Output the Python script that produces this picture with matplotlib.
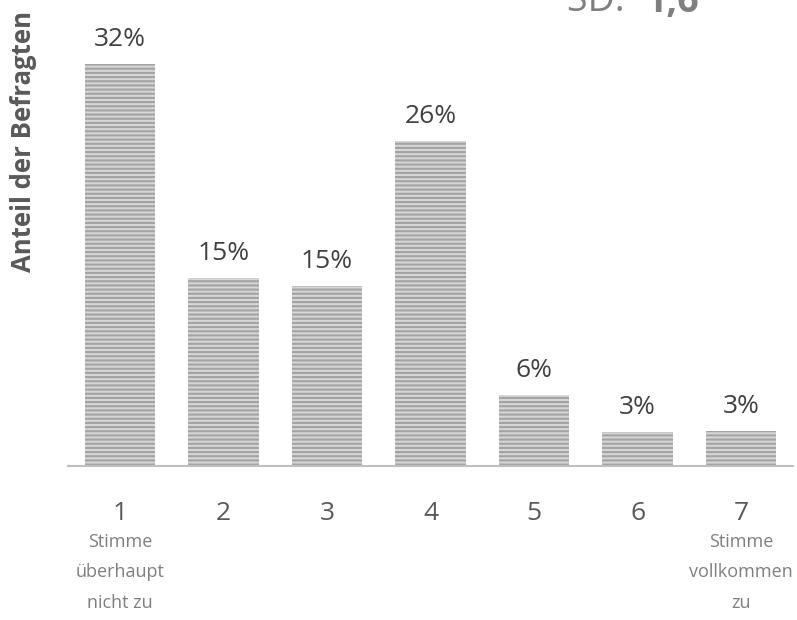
import numpy as np
import matplotlib.pyplot as plt

plt.rcParams['font.family'] = ['Open Sans', 'DejaVu Sans']
plt.rcParams['hatch.linewidth'] = 1.5

categories = ['1', '2', '3', '4', '5', '6', '7']
shares = [31.9, 14.9, 14.3, 25.8, 5.6, 2.7, 2.8]
value_labels = ['32%', '15%', '15%', '26%', '6%', '3%', '3%']
sub_labels = ['Stimme\nüberhaupt\nnicht zu', '', '', '', '', '', 'Stimme\nvollkommen\nzu']

fig = plt.figure(figsize=(7.97, 6.2), dpi=100)
ax = fig.add_axes([68 / 797, 154 / 620, 725 / 797, 466 / 620])

x = np.arange(len(categories))
bars = ax.bar(x, shares, width=0.68, color='#d6d6d6', edgecolor='#a3a3a3',
              hatch='----', linewidth=0)

for b, lab in zip(bars, value_labels):
    ax.annotate(lab, (b.get_x() + b.get_width() / 2, b.get_height()),
                xytext=(0, 13), textcoords='offset points', ha='center', va='baseline',
                fontsize=19, color='#404040')

ax.set_xlim(-0.5, len(categories) - 0.5)
ax.set_ylim(0, 466 / 12.6)
ax.set_yticks([])
ax.set_xticks(x)
ax.set_xticklabels(categories, fontsize=19, color='#595959')
ax.tick_params(axis='x', length=0, pad=25)
for s in ['top', 'right', 'left']:
    ax.spines[s].set_visible(False)
ax.spines['bottom'].set_color('#bfbfbf')
ax.spines['bottom'].set_linewidth(1.5)

for xi, sub in zip(x, sub_labels):
    if sub:
        ax.annotate(sub, (xi, 0), xytext=(0, -48), textcoords='offset points',
                    ha='center', va='top', fontsize=13, color='#7f7f7f',
                    linespacing=1.9)

fig.text(24 / 797, 1 - 142 / 620, 'Anteil der Befragten', rotation=90,
         ha='center', va='center', fontsize=18.5, fontweight='bold', color='#595959')

fig.text(567 / 797, 1 - 11 / 620, 'SD: ', ha='left', va='baseline',
         fontsize=27, color='#7f7f7f')
fig.text(646 / 797, 1 - 12 / 620, '1,6', ha='left', va='baseline',
         fontsize=27, fontweight='bold', color='#7f7f7f')

fig.savefig('out.png', dpi=100)
